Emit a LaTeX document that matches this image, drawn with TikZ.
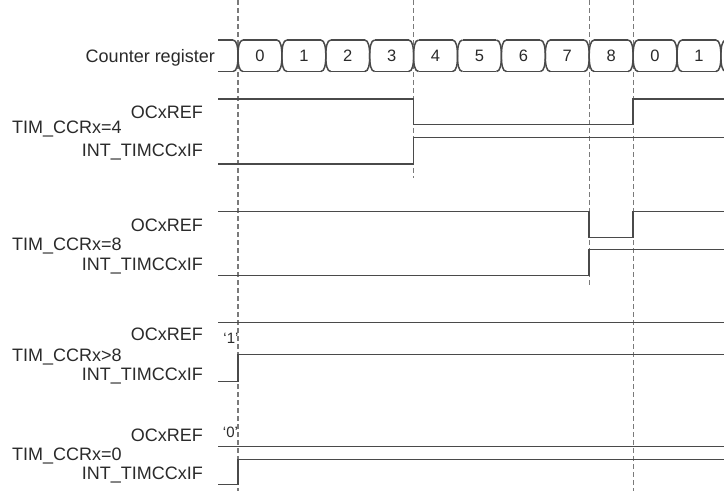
\documentclass[tikz,border=0pt]{standalone}
\usepackage{fontspec}
\setmainfont{Liberation Sans}
\definecolor{txt}{HTML}{2A2A2A}
\definecolor{wavec}{HTML}{4A4A4A}
\definecolor{guidec}{HTML}{7A7A7A}
\tikzset{
  lbl/.style={inner sep=0pt, font=\fontsize{18}{20}\selectfont, text=txt},
  num/.style={inner sep=0pt, font=\fontsize{16.5}{18}\selectfont, text=txt},
  qv/.style={inner sep=0pt, font=\fontsize{15}{16}\selectfont, text=txt},
  wave/.style={draw=wavec, line width=1.5pt, line join=miter},
  guide/.style={draw=guidec, line width=1.1pt, dash pattern=on 5pt off 3pt},
}
\begin{document}
\begin{tikzpicture}[x=1pt, y=-1pt]
\useasboundingbox[fill=white] (0,0) rectangle (724,491);
\clip (0,0) rectangle (724,491);

% guide lines
\coordinate (g0t) at (238,0);    \coordinate (g0b) at (238,491);
\coordinate (g4t) at (413.6,0);  \coordinate (g4b) at (413.6,178);
\coordinate (g8t) at (589.2,0);  \coordinate (g8b) at (589.2,285);
\coordinate (g9t) at (633.1,0);  \coordinate (g9b) at (633.1,491);
\draw[guide] (g0t) -- (g0b);
\draw[guide] (g4t) -- (g4b);
\draw[guide] (g8t) -- (g8b);
\draw[guide] (g9t) -- (g9b);

% counter register bus
\draw[wave] (218,40) -- (233,40);
\draw[wave] (218,71.5) -- (233,71.5);
\foreach \k in {0,...,11} {
  \pgfmathsetmacro\t{238+43.9*\k}
  \draw[wave] (\t-5,40) .. controls (\t-1,40) and (\t,48) .. (\t,56)
              .. controls (\t,64) and (\t-1,71.5) .. (\t-5,71.5);
  \draw[wave] (\t+5,40) .. controls (\t+1,40) and (\t,48) .. (\t,56)
              .. controls (\t,64) and (\t+1,71.5) .. (\t+5,71.5);
}
\foreach \k/\v in {0/0,1/1,2/2,3/3,4/4,5/5,6/6,7/7,8/8,9/0,10/1} {
  \pgfmathsetmacro\t{238+43.9*\k}
  \draw[wave] (\t+5,40) -- (\t+38.9,40);
  \draw[wave] (\t+5,71.5) -- (\t+38.9,71.5);
  \node[num] (n\k) at (\t+21.95,56) {\v};
}

% labels
\node[lbl, anchor=base east] (cr) at (215,62.7) {Counter register};

\node[lbl, anchor=base east] (oc1) at (203,118.3) {OCxREF};
\node[lbl, anchor=base west] (tc1) at (12,133.3) {TIM\_CCRx=4};
\node[lbl, anchor=base east] (if1) at (203,156) {INT\_TIMCCxIF};

\node[lbl, anchor=base east] (oc2) at (203,231) {OCxREF};
\node[lbl, anchor=base west] (tc2) at (12,250) {TIM\_CCRx=8};
\node[lbl, anchor=base east] (if2) at (203,270) {INT\_TIMCCxIF};

\node[lbl, anchor=base east] (oc3) at (203,340.8) {OCxREF};
\node[qv, anchor=base] (q1) at (231,343) {‘1’};
\node[lbl, anchor=base west] (tc3) at (12,361) {TIM\_CCRx>8};
\node[lbl, anchor=base east] (if3) at (203,380) {INT\_TIMCCxIF};

\node[lbl, anchor=base east] (oc4) at (203,441.3) {OCxREF};
\node[qv, anchor=base] (q0) at (230.5,437) {‘0’};
\node[lbl, anchor=base west] (tc4) at (12,460) {TIM\_CCRx=0};
\node[lbl, anchor=base east] (if4) at (203,479) {INT\_TIMCCxIF};

% waveforms group 1 (CCRx=4)
\draw[wave] (218,99) -- (413.6,99) -- (413.6,124.3) -- (633.1,124.3) -- (633.1,99) -- (724,99);
\draw[wave] (218,164) -- (413.6,164) -- (413.6,137.7) -- (724,137.7);
% group 2 (CCRx=8)
\draw[wave] (218,211.7) -- (589.2,211.7) -- (589.2,237.7) -- (633.1,237.7) -- (633.1,211.7) -- (724,211.7);
\draw[wave] (218,275.7) -- (589.2,275.7) -- (589.2,249.3) -- (724,249.3);
% group 3 (CCRx>8)
\draw[wave] (218,322.3) -- (724,322.3);
\draw[wave] (218,381.7) -- (238,381.7) -- (238,354.3) -- (724,354.3);
% group 4 (CCRx=0)
\draw[wave] (218,446.7) -- (724,446.7);
\draw[wave] (218,484.3) -- (238,484.3) -- (238,459.3) -- (724,459.3);
\end{tikzpicture}
\end{document}
